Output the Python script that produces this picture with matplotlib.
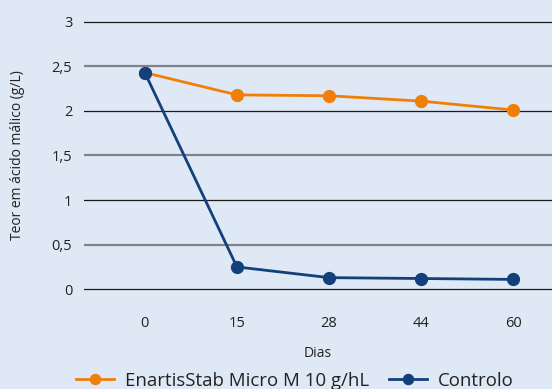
import matplotlib
matplotlib.use("Agg")
from matplotlib import pyplot as plt

plt.rcParams["font.family"] = ["Open Sans", "DejaVu Sans"]

dias = ["0", "15", "28", "44", "60"]
enartis = [2.43, 2.18, 2.17, 2.11, 2.01]
controlo = [2.43, 0.25, 0.13, 0.12, 0.11]
y_ticks = [0, 0.5, 1, 1.5, 2, 2.5, 3]
y_labels = ["0", "0,5", "1", "1,5", "2", "2,5", "3"]

bg = "#dfe8f5"
orange = "#f07f0a"
blue = "#133f7a"
txt = "#222222"

fig = plt.figure(figsize=(5.52, 3.89), dpi=100, facecolor=bg)
ax = fig.add_axes([84 / 552, 1 - 291 / 389, 1 - 84 / 552, 271 / 389])
ax.set_facecolor(bg)

x = list(range(len(dias)))
for yv in y_ticks:
    if yv % 1 == 0:
        ax.axhline(yv, color="#1a1a1a", lw=0.9, zorder=1)
    else:
        ax.axhline(yv, color="#7f8389", lw=1.6, zorder=1)

ax.plot(x, enartis, color=orange, lw=2.0, marker="o", ms=8.5,
        label="EnartisStab Micro M 10 g/hL", zorder=3)
ax.plot(x, controlo, color=blue, lw=2.0, marker="o", ms=8.5,
        label="Controlo", zorder=4)

ax.set_xlim(-0.66, 4.42)
ax.set_ylim(-0.02, 3.02)
ax.set_xticks(x)
ax.set_xticklabels(dias)
ax.set_yticks(y_ticks)
ax.set_yticklabels(y_labels)
ax.tick_params(length=0, labelsize=10.5, colors=txt)
ax.tick_params(axis="x", pad=18)
ax.tick_params(axis="y", pad=8.5)
for s in ax.spines.values():
    s.set_visible(False)

ax.set_xlabel("Dias", fontsize=10, color=txt, labelpad=11)
fig.text(18 / 552, 1 - 155 / 389, "Teor em ácido málico (g/L)", rotation=90,
         ha="center", va="center", fontsize=10, color=txt)

fig.legend(loc="center", bbox_to_anchor=(0.534, 1 - 381 / 389), ncol=2,
           frameon=False, fontsize=13.4, handlelength=2.05, columnspacing=1.05,
           handletextpad=0.6, markerscale=0.85, labelcolor=txt)

fig.savefig("out.png", dpi=100, facecolor=bg)
